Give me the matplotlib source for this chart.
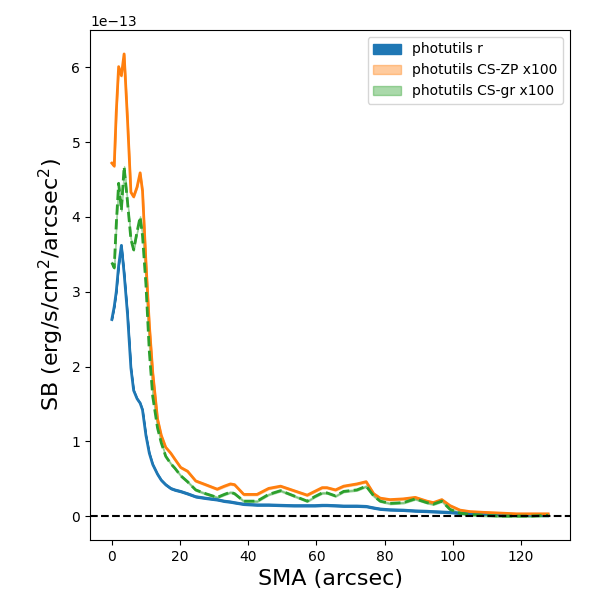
import numpy as np
import matplotlib
matplotlib.use("Agg")
import matplotlib.pyplot as plt

sma = [0, 0.7, 1.3, 2.0, 2.8, 3.6, 4.6, 5.6, 6.4, 7.4, 8.3, 9.0, 10.0, 11.0, 12.0,
       13.4, 14.5, 15.8, 17.3, 18.5, 20.2, 22.2, 24.6, 27.5, 30.9, 33, 34.8, 36,
       38.7, 42.6, 46, 49.5, 53.4, 57.3, 59.5, 61.7, 63.1, 65.6, 68, 71.9, 74.6,
       76.8, 78.7, 81.6, 85.5, 89, 92.4, 94.3, 96.8, 99.2, 102.1, 105, 109, 114,
       118.7, 123, 128]

sb_r = [2.63, 2.8, 3.0, 3.35, 3.62, 3.25, 2.7, 1.98, 1.68, 1.57, 1.51, 1.42, 1.08,
        0.84, 0.69, 0.56, 0.48, 0.42, 0.37, 0.35, 0.33, 0.30, 0.26, 0.24, 0.22,
        0.20, 0.19, 0.18, 0.16, 0.15, 0.15, 0.145, 0.14, 0.14, 0.14, 0.145, 0.145,
        0.14, 0.135, 0.135, 0.13, 0.11, 0.095, 0.085, 0.08, 0.07, 0.065, 0.06,
        0.055, 0.05, 0.04, 0.035, 0.03, 0.025, 0.02, 0.015, 0.01]

sb_zp = [4.72, 4.68, 5.4, 6.01, 5.89, 6.18, 5.3, 4.33, 4.27, 4.40, 4.59, 4.35, 3.4,
         2.56, 1.92, 1.3, 1.08, 0.92, 0.84, 0.76, 0.65, 0.6, 0.47, 0.42, 0.36,
         0.40, 0.43, 0.42, 0.29, 0.29, 0.37, 0.40, 0.34, 0.28, 0.33, 0.38, 0.38,
         0.35, 0.40, 0.43, 0.46, 0.30, 0.24, 0.22, 0.23, 0.25, 0.20, 0.18, 0.22,
         0.14, 0.08, 0.06, 0.05, 0.04, 0.03, 0.03, 0.03]

sb_gr = [3.39, 3.32, 3.9, 4.45, 4.09, 4.67, 4.2, 3.7, 3.56, 3.8, 4.0, 3.75, 3.1,
         2.2, 1.6, 1.18, 0.98, 0.8, 0.7, 0.64, 0.54, 0.46, 0.35, 0.30, 0.25,
         0.29, 0.32, 0.30, 0.20, 0.20, 0.29, 0.34, 0.27, 0.20, 0.26, 0.31, 0.31,
         0.27, 0.33, 0.35, 0.40, 0.27, 0.20, 0.17, 0.18, 0.23, 0.18, 0.16, 0.20,
         0.09, 0.04, 0.02, 0.01, 0.0, 0.0, 0.0, 0.01]

band_err = 0.01  # small uncertainty band (in units of 1e-13)
scale = 1e-13

x = np.array(sma)
r = np.array(sb_r) * scale
zp = np.array(sb_zp) * scale
gr = np.array(sb_gr) * scale
e = band_err * scale

fig, ax = plt.subplots(figsize=(6, 6), dpi=100)
fig.subplots_adjust(left=0.15, right=0.95, top=0.95, bottom=0.1)

ax.plot(x, r, color='C0', lw=2)
ax.fill_between(x, r - e, r + e, color='C0', label='photutils r')
ax.plot(x, zp, color='C1', lw=2)
ax.fill_between(x, zp - e, zp + e, color='C1', alpha=0.4, label='photutils CS-ZP x100')
ax.plot(x, gr, color='C2', lw=2, ls='--')
ax.fill_between(x, gr - e, gr + e, color='C2', alpha=0.4, label='photutils CS-gr x100')

ax.axhline(0, color='k', ls='--', lw=1.5)

ax.set_xlabel('SMA (arcsec)', fontsize=16)
ax.set_ylabel('SB (erg/s/cm$^2$/arcsec$^2$)', fontsize=16)
ax.legend(loc='upper right')

fig.savefig('out.png', dpi=100)
